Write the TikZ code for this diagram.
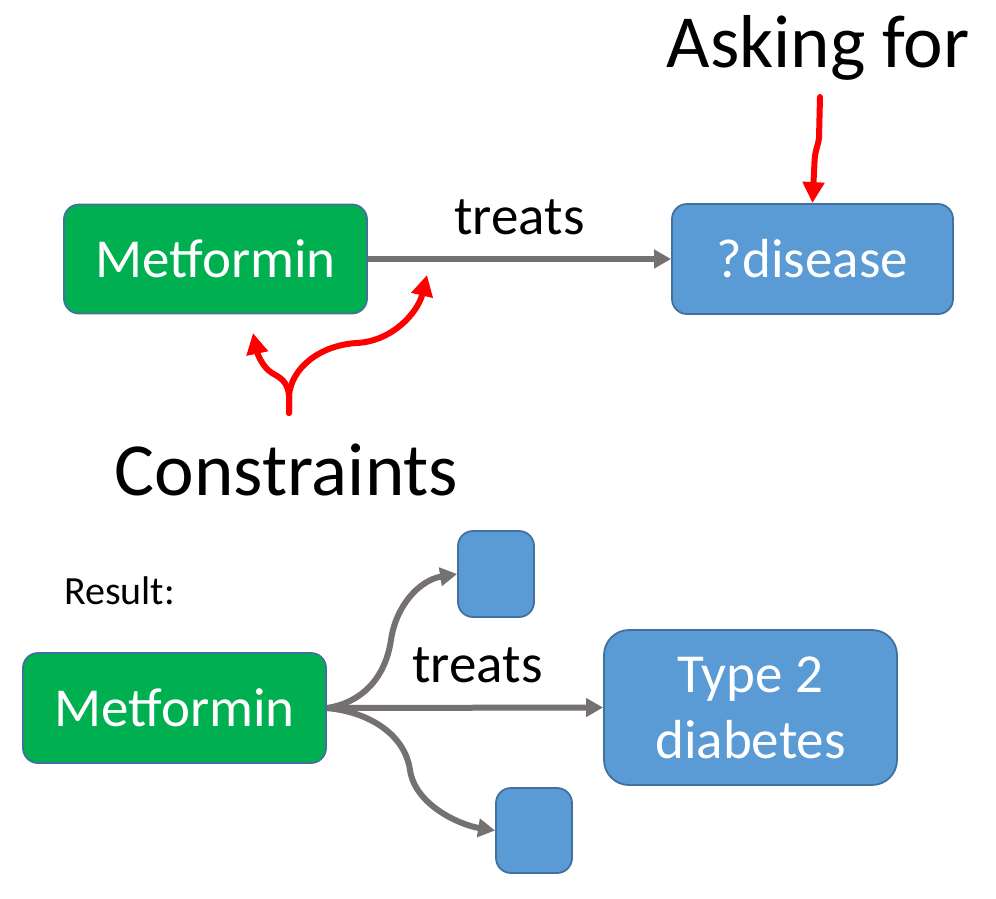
\documentclass[tikz,border=0pt]{standalone}
\usepackage{fontspec}
\setmainfont{Carlito}
\usetikzlibrary{arrows.meta}
\definecolor{boxgreen}{HTML}{00B050}
\definecolor{boxblue}{HTML}{5B9BD5}
\definecolor{boxedge}{HTML}{41719C}
\definecolor{linkgray}{HTML}{767171}
\definecolor{markred}{HTML}{FF0000}
\tikzset{
  greenbox/.style={draw=boxedge, fill=boxgreen, line width=1.8pt, rounded corners=15pt,
    text=white, font=\fontsize{55}{66}\selectfont, inner sep=0pt},
  bluebox/.style={draw=boxedge, fill=boxblue, line width=1.8pt, rounded corners=15pt,
    text=white, font=\fontsize{55}{66}\selectfont, inner sep=0pt, align=center},
  grayarrow/.style={draw=linkgray, line width=6pt, -{Triangle[length=17pt,width=18pt]}},
  redarrow/.style={draw=markred, line width=6pt, line cap=round, line join=round, -{Triangle[length=21pt,width=21pt]}},
  lbl/.style={font=\fontsize{55}{66}\selectfont, inner sep=0pt, anchor=base},
  biglbl/.style={font=\fontsize{75}{90}\selectfont, inner sep=0pt, anchor=base},
}
\begin{document}
\begin{tikzpicture}[x=1pt, y=-1pt]
\useasboundingbox[fill=white] (0,0) rectangle (996,898);

% top query
\node[greenbox, minimum width=303pt, minimum height=109pt] (m1) at (215.5,259) {Metformin};
\node[bluebox, minimum width=281pt, minimum height=110pt] (q) at (812.5,259) {?disease};
\draw[grayarrow] (m1.east) -- (q.west);
\node[lbl] (tr1) at (519.5,234) {treats};

\node[biglbl] (ask) at (818,67) {Asking for};
\node[biglbl] (cons) at (286.5,495) {Constraints};

% red marks
\coordinate (askstart) at (820,97);
\draw[redarrow] (askstart) -- (819,138) .. controls (818,146) and (815,150) .. (814.5,162) -- (q.north);

\coordinate (cstart) at (289,413);
\coordinate (cfork) at (289,396);
\coordinate (ltip) at (253,333);
\coordinate (rtip) at (427,275);
\draw[redarrow] (cstart) -- (cfork) .. controls (288,381) and (279,377) .. (272,373) .. controls (262,367) and (257,352) .. (ltip);
\draw[redarrow] (cstart) -- (cfork) .. controls (291,368) and (320,345) .. (357,343) .. controls (393,341) and (418,312) .. (rtip);

% result
\node[lbl, font=\fontsize{40}{48}\selectfont, anchor=base west] (res) at (64,604) {Result:};
\node[greenbox, minimum width=303pt, minimum height=110pt] (m2) at (174.5,708) {Metformin};
\node[bluebox, rounded corners=25pt, minimum width=293pt, minimum height=155pt] (t2) at (750.5,707.5) {Type 2\\diabetes};
\node[bluebox, minimum width=76pt, minimum height=86pt] (s1) at (496,574) {};
\node[bluebox, minimum width=76pt, minimum height=85pt] (s2) at (534,830.5) {};

\draw[grayarrow] (m2.east) -- (t2.west);
\node[lbl] (tr2) at (477.5,682) {treats};
\draw[grayarrow] (m2.east) .. controls (360,703) and (385,680) .. (391,640) .. controls (396,605) and (420,580) .. (s1.west);
\draw[grayarrow] (m2.east) .. controls (370,712) and (405,735) .. (410,770) .. controls (415,805) and (460,825) .. (s2.west);
\end{tikzpicture}
\end{document}
